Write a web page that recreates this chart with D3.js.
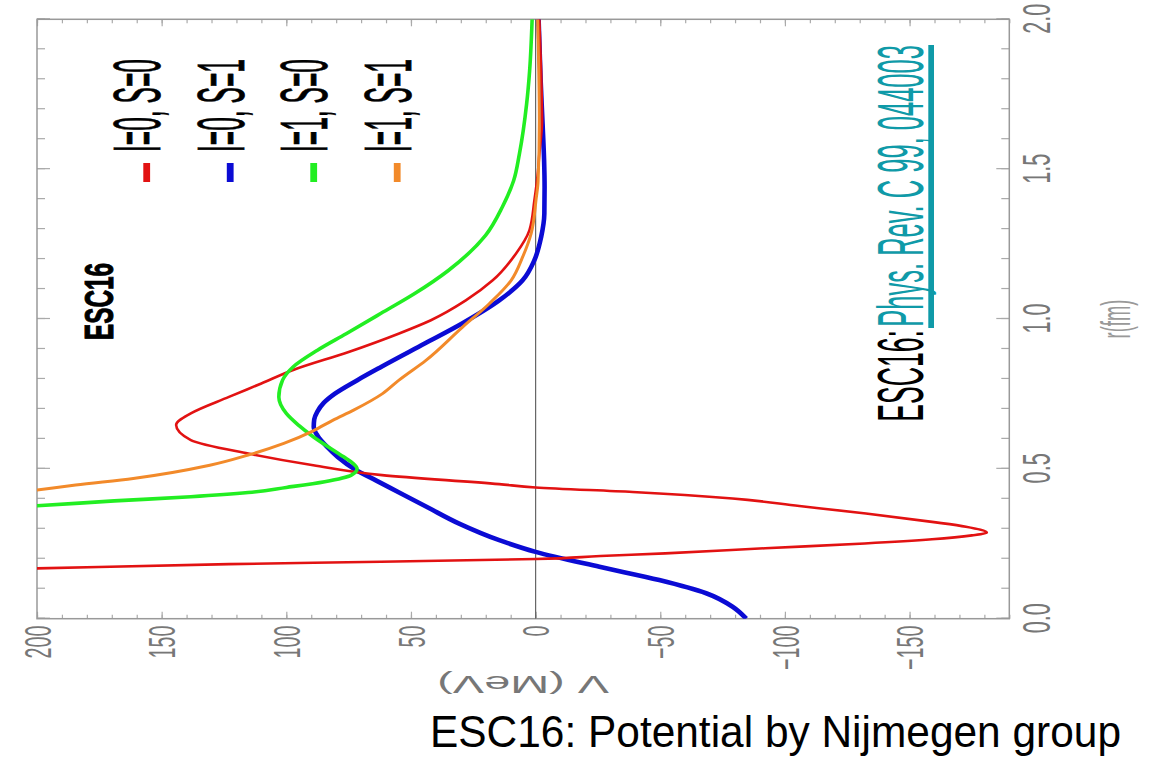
<!DOCTYPE html>
<html>
<head>
<meta charset="utf-8">
<script src="https://d3js.org/d3.v7.min.js"></script>
<style>
  body { margin:0; background:#fff; }
  text { font-family: "Liberation Sans", Arial, sans-serif; }
</style>
</head>
<body>
<svg id="plot"></svg>
<script>

// series: r in fm, V in MeV
var seriesNames  = ["I=0, S=0", "I=0, S=1", "I=1, S=0", "I=1, S=1"];
var seriesColors = ["#e21212", "#0b0bd4", "#22ee22", "#f28a2a"];
var seriesWidths = [2.6, 4.6, 3.6, 3.0];

var rRed = [0.150, 0.168, 0.182, 0.190, 0.199, 0.209, 0.218, 0.235, 0.251, 0.265, 0.278, 0.287,
            0.307, 0.323, 0.351, 0.376, 0.401, 0.423, 0.438, 0.449, 0.479, 0.512, 0.551, 0.596,
            0.646, 0.685, 0.740, 0.785, 0.829, 0.890, 0.951, 0.996, 1.062, 1.129, 1.218, 1.296,
            1.396, 1.480, 1.551, 1.662, 1.829, 2.000];
var vRed = [300, 200, 123, 62, 0, -26, -52, -92, -132, -159, -175, -181,
            -172.6, -159, -132.5, -105.8, -79, -38.9, 0, 14.6, 61.6, 89.2, 115.3, 138.3,
            144.2, 138.3, 123, 110, 97.5, 75, 55, 42, 28, 17.2, 7.9, 2.5,
            0.5, -0.8, -1.5, -2.6, -2.2, -1.5];

var rBlue = [0.000, 0.040, 0.085, 0.129, 0.173, 0.223, 0.262, 0.318, 0.370, 0.418, 0.460, 0.498,
             0.540, 0.573, 0.610, 0.640, 0.665, 0.690, 0.720, 0.751, 0.796, 0.840, 0.918, 0.985,
             1.062, 1.129, 1.196, 1.273, 1.351, 1.440, 1.530, 1.650, 1.800, 2.000];
var vBlue = [-84.5, -79, -68.4, -49.6, -25.6, 0, 14.6, 30.9, 43, 54, 63.7, 72.4,
             79.4, 83.6, 87.4, 89, 88.8, 87.6, 85, 80.5, 71.5, 62, 44.5, 29.5,
             14.6, 5.2, 0.5, -2.2, -3.5, -3.6, -3.4, -2.8, -2.0, -1.2];

var rGreen = [0.350, 0.377, 0.393, 0.407, 0.421, 0.438, 0.457, 0.479, 0.500, 0.520, 0.540, 0.607,
              0.645, 0.685, 0.740, 0.796, 0.840, 0.896, 0.951, 1.019, 1.085, 1.162, 1.280, 1.373,
              1.462, 1.551, 1.718, 1.829, 2.000];
var vGreen = [270, 200, 169, 138.3, 115.3, 100, 84.6, 73.9, 71.6, 73.5, 77, 89.2,
              95, 100, 103, 101.5, 97.3, 87.5, 76, 62, 48.5, 35, 20, 13.4,
              8.8, 6.5, 3.6, 2.4, 1.4];

var rOrange = [0.400, 0.429, 0.446, 0.468, 0.512, 0.546, 0.585, 0.627, 0.662, 0.696, 0.751, 0.796,
               0.862, 0.973, 1.051, 1.129, 1.207, 1.285, 1.400, 1.460, 1.662, 2.000];
var vOrange = [228, 200, 184.5, 161.4, 130.7, 115.3, 101, 89.2, 81.4, 73, 61.4, 54.8,
               44, 29.3, 18.6, 9.8, 5.2, 1.8, -0.2, -1.0, -1.5, -0.8];

var rTicks = [0, 0.5, 1.0, 1.5, 2.0];
var vTicks = [200, 150, 100, 50, 0, -50, -100, -150];
var rDomain = [0, 2];
var vDomain = [-190, 200];

var seriesR = [rRed, rBlue, rGreen, rOrange];
var seriesV = [vRed, vBlue, vGreen, vOrange];
var drawOrder = [1, 0, 2, 3];

// the whole plot is drawn upright, then turned a quarter turn to the left
var origin = {x:37, y:618.7};
var W = 599.4;   // r axis length
var H = 972.3;   // V axis length

var svg = d3.select("#plot")
    .attr("width", 1160)
    .attr("height", 757);

var g = svg.append("g")
    .attr("transform", "translate(" + origin.x + "," + origin.y + ") rotate(-90)");

var xScale = d3.scaleLinear().domain(rDomain).range([0, W]);
var yScale = d3.scaleLinear().domain(vDomain).range([H, 0]);

svg.append("defs").append("clipPath")
    .attr("id", "clip")
    .append("rect")
    .attr("width", W)
    .attr("height", H);

// squeeze a text sideways so it takes the given length
var fitText = function(sel, x, y, len, extra, sy) {
    var w = sel.node().getComputedTextLength();
    sel.attr("transform", "translate(" + x + "," + y + ")" + (extra || "") +
        " scale(" + (len / w) + "," + (sy || 1) + ")");
};

// minor ticks
var vMinor = d3.range(-190, 201, 10);
var rMinor = d3.range(0, 2.001, 0.1);

var drawAxis = function(axis, tx, ty) {
    var a = g.append("g")
        .attr("transform", "translate(" + tx + "," + ty + ")")
        .call(axis);
    a.select(".domain").remove();
    a.selectAll("line").attr("stroke", "#aaa").attr("stroke-width", 1.2);
    return a;
};

drawAxis(d3.axisLeft(yScale).tickValues(vMinor).tickSize(-4).tickFormat(""), 0, 0);
drawAxis(d3.axisRight(yScale).tickValues(vMinor).tickSize(-4).tickFormat(""), W, 0);
drawAxis(d3.axisBottom(xScale).tickValues(rMinor).tickSize(-8).tickFormat(""), 0, H);
drawAxis(d3.axisTop(xScale).tickValues(rMinor).tickSize(-8).tickFormat(""), 0, 0);

var vAxis = drawAxis(d3.axisLeft(yScale).tickValues(vTicks).tickSize(-7).tickPadding(7), 0, 0);
drawAxis(d3.axisRight(yScale).tickValues(vTicks).tickSize(-7).tickFormat(""), W, 0);
var rAxis = drawAxis(d3.axisBottom(xScale).tickValues(rTicks).tickSize(-13)
    .tickFormat(d3.format(".1f")), 0, H);
drawAxis(d3.axisTop(xScale).tickValues(rTicks).tickSize(-13).tickFormat(""), 0, 0);

// narrow, tall tick labels
vAxis.selectAll("text")
    .attr("x", null)
    .attr("dy", "0.36em")
    .attr("transform", "translate(-7,0) scale(0.53,1)")
    .attr("font-size", 37)
    .attr("fill", "#777");

rAxis.selectAll("text")
    .attr("y", null)
    .attr("dy", null)
    .attr("transform", "translate(0,41) scale(0.57,1)")
    .attr("font-size", 38)
    .attr("fill", "#777");

// frame
g.append("rect")
    .attr("width", W)
    .attr("height", H)
    .attr("fill", "none")
    .attr("stroke", "#999")
    .attr("stroke-width", 1.5);

// V = 0 line
g.append("line")
    .attr("x1", 0).attr("x2", W)
    .attr("y1", yScale(0)).attr("y2", yScale(0))
    .attr("stroke", "#666")
    .attr("stroke-width", 1.2);

// curves
var lineGenerator = d3.line()
    .x(function(d) { return xScale(d[0]); })
    .y(function(d) { return yScale(d[1]); })
    .curve(d3.curveMonotoneX);

var curves = g.append("g").attr("clip-path", "url(#clip)");

drawOrder.forEach(function(i) {
    var pts = seriesR[i].map(function(r, j) { return [r, seriesV[i][j]]; });
    curves.append("path")
        .datum(pts)
        .attr("d", lineGenerator)
        .attr("fill", "none")
        .attr("stroke", seriesColors[i])
        .attr("stroke-width", seriesWidths[i])
        .attr("stroke-linejoin", "round");
});

// axis titles
g.append("text")
    .text("r(fm)")
    .attr("text-anchor", "middle")
    .attr("font-size", 40)
    .attr("fill", "#999")
    .attr("transform", "translate(" + xScale(1.0) + ",1093) scale(0.46,1)");

var vTitle = g.append("text")
    .text("V (MeV)")
    .attr("text-anchor", "middle")
    .attr("font-size", 46)
    .attr("dy", "0.35em")
    .attr("fill", "#777");
fitText(vTitle, -65.5, yScale(5), 172, " rotate(-90)", 0.5);

// legend
var legend = g.append("g");
seriesNames.forEach(function(name, i) {
    var py = 83.5 * i;
    legend.append("rect")
        .attr("x", 436.7)
        .attr("y", 106.3 + py)
        .attr("width", 19)
        .attr("height", 6.8)
        .attr("fill", seriesColors[i]);
    var t = legend.append("text")
        .text(name)
        .attr("font-size", 66)
        .attr("fill", "#000")
        .attr("stroke", "#000")
        .attr("stroke-width", 0.8);
    fitText(t, 466.7, 123 + py, 93);
});

// labels inside the plot
var esc = g.append("text")
    .text("ESC16")
    .attr("font-size", 40)
    .attr("font-weight", "bold")
    .attr("stroke", "#000")
    .attr("stroke-width", 1);
fitText(esc, 278.7, 76.3, 77);

var ref1 = g.append("text")
    .text("ESC16:")
    .attr("font-size", 65);
fitText(ref1, 197, 886.3, 91.7);

var ref2 = g.append("text")
    .text("Phys. Rev. C 99, 044003")
    .attr("font-size", 65)
    .attr("fill", "#0f9aa8");
fitText(ref2, 292, 886.3, 281.7);

g.append("rect")
    .attr("x", 290.7)
    .attr("y", 891.3)
    .attr("width", 283)
    .attr("height", 5.7)
    .attr("fill", "#0f9aa8");

// slide caption
var cap = svg.append("text")
    .text("ESC16: Potential by Nijmegen group")
    .attr("font-size", 44)
    .attr("fill", "#000");
fitText(cap, 430, 746.5, 691);

</script>
</body>
</html>
